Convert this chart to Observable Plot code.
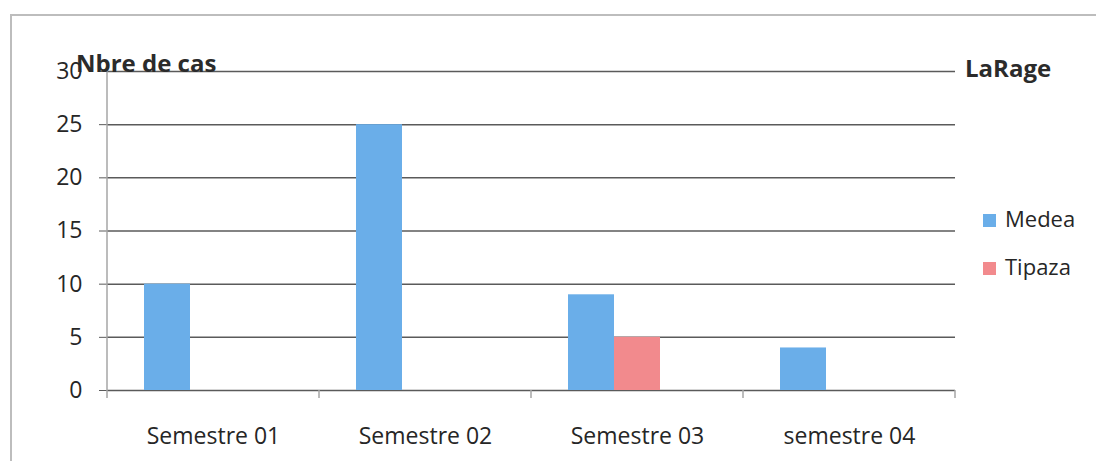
<!DOCTYPE html>
<html>
<head>
<meta charset="utf-8">
<script src="https://cdn.jsdelivr.net/npm/d3@7"></script>
<script src="https://cdn.jsdelivr.net/npm/@observablehq/plot@0.6"></script>
<style>
  html, body { margin: 0; padding: 0; background: #fff; overflow: hidden; }
  #chart { position: relative; width: 1096px; height: 461px; font-family: "Open Sans", sans-serif; color: #262626; }
  #chart svg { position: absolute; left: 0; top: 0; }
  .frame { position: absolute; left: 10px; top: 14px; width: 1100px; height: 460px;
           border-left: 2px solid #bdbdbd; border-top: 2px solid #bdbdbd; }
  .ylabel, .legend-title { position: absolute; font-weight: 700; font-size: 24px; line-height: 24px; white-space: nowrap; color: #2b2b2b; }
  .ylabel { left: 76px; top: 51px; }
  .legend-title { left: 965px; top: 56px; }
  .legend { position: absolute; left: 983px; top: 0; font-size: 22px; line-height: 22px; }
  .legend .item { position: absolute; left: 0; white-space: nowrap; }
  .legend .sw { display: inline-block; width: 13px; height: 13px; margin-right: 9px; vertical-align: 0px; }
</style>
</head>
<body>
<div id="chart">
  <div class="frame"></div>
</div>
<script>
// Nombre de cas de rage par semestre et par wilaya
const semestres = ["Semestre 01", "Semestre 02", "Semestre 03", "semestre 04"];
const seriesNames = ["Medea", "Tipaza", "Série 3"];
const medea = [10, 25, 9, 4];
const tipaza = [0, 0, 5, 0];
const serie3 = [0, 0, 0, 0];
const yTicks = [0, 5, 10, 15, 20, 25, 30];
const colors = ["#6aaee9", "#f28a8d", "#f0a830"];
const legendItems = ["Medea", "Tipaza"];

const valuesBySeries = [medea, tipaza, serie3];
const rows = semestres.flatMap((s, i) =>
  seriesNames.map((name, k) => ({semestre: s, serie: name, cas: valuesBySeries[k][i]}))
);

const plot = Plot.plot({
  width: 1096,
  height: 461,
  marginLeft: 106,
  marginRight: 140,
  marginTop: 71,
  marginBottom: 71,
  style: {fontFamily: "Open Sans, sans-serif", background: "transparent", overflow: "visible"},
  fx: {domain: semestres, padding: 0, axis: null, label: null},
  x: {domain: seriesNames, paddingInner: 0, paddingOuter: 0.76, axis: null},
  y: {domain: [0, 30], axis: null},
  color: {domain: seriesNames, range: colors},
  marks: [
    Plot.ruleY(yTicks, {stroke: "#5a5a5a", strokeWidth: 1.5}),
    Plot.barY(rows, {fx: "semestre", x: "serie", y: "cas", fill: "serie"}),
    Plot.axisY(yTicks, {tickSize: 8, tickPadding: 17, fontSize: 23, stroke: "#5a5a5a", fill: "#262626", label: null}),
    Plot.axisFx({anchor: "bottom", tickSize: 0, tickPadding: 37, fontSize: 23, fill: "#262626", label: null})
  ]
});

// Value axis line and short category boundary ticks below the baseline,
// positioned from the plot's own fx and y scales
{
  const fxS = plot.scale("fx"), yS = plot.scale("y");
  const y0 = yS.apply(0), yTop = yS.apply(d3.max(yTicks));
  const edges = semestres.map((s) => fxS.apply(s));
  edges.push(fxS.apply(semestres[semestres.length - 1]) + fxS.bandwidth);
  const g = d3.select(plot).append("g").attr("stroke", "#a6a6a6").attr("stroke-width", 1.5);
  edges.forEach((x, i) => {
    g.append("line")
      .attr("x1", x).attr("x2", x)
      .attr("y1", i === 0 ? yTop : y0).attr("y2", y0 + 8);
  });
}

const chart = document.getElementById("chart");
chart.appendChild(plot);

const ylab = document.createElement("div");
ylab.className = "ylabel";
ylab.textContent = "Nbre de cas";
chart.appendChild(ylab);

const ltitle = document.createElement("div");
ltitle.className = "legend-title";
ltitle.textContent = "LaRage";
chart.appendChild(ltitle);

const legend = document.createElement("div");
legend.className = "legend";
legendItems.forEach((name, i) => {
  const item = document.createElement("div");
  item.className = "item";
  item.style.top = (207 + i * 48) + "px";
  const sw = document.createElement("span");
  sw.className = "sw";
  sw.style.background = colors[seriesNames.indexOf(name)];
  item.appendChild(sw);
  item.appendChild(document.createTextNode(name));
  legend.appendChild(item);
});
chart.appendChild(legend);
</script>
</body>
</html>
